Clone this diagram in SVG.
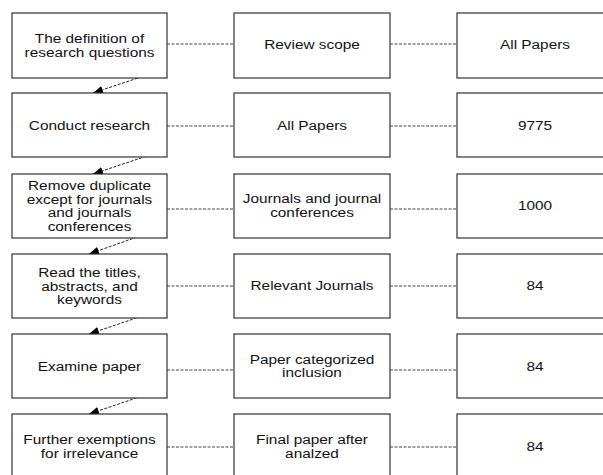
<svg xmlns="http://www.w3.org/2000/svg" width="603" height="475" viewBox="0 0 603 475">
<style>
.box{fill:#fff;stroke:#333;stroke-width:1.2}
.t{font-family:"Liberation Sans",Arial,sans-serif;font-size:12.5px;fill:#111;text-anchor:middle}
.h{stroke:#444;stroke-width:1;stroke-dasharray:3 1.5;fill:none}
.d{stroke:#222;stroke-width:1;stroke-dasharray:3 1.5;fill:none;marker-end:url(#ah)}
</style>
<defs>
<marker id="ah" viewBox="0 0 10 8" refX="10" refY="4" markerWidth="10" markerHeight="8" markerUnits="userSpaceOnUse" orient="auto">
<path d="M0,0 L10,4 L0,8 Z" fill="#000"/>
</marker>
</defs>
<rect width="603" height="475" fill="#fff"/>
<g id="connectors">
<line class="h" x1="167" y1="44" x2="234" y2="44"/>
<line class="h" x1="390" y1="44" x2="457" y2="44"/>
<line class="h" x1="167" y1="126" x2="234" y2="126"/>
<line class="h" x1="390" y1="126" x2="457" y2="126"/>
<line class="h" x1="167" y1="209" x2="234" y2="209"/>
<line class="h" x1="390" y1="209" x2="457" y2="209"/>
<line class="h" x1="167" y1="286" x2="234" y2="286"/>
<line class="h" x1="390" y1="286" x2="457" y2="286"/>
<line class="h" x1="167" y1="370" x2="234" y2="370"/>
<line class="h" x1="390" y1="370" x2="457" y2="370"/>
<line class="h" x1="167" y1="447" x2="234" y2="447"/>
<line class="h" x1="390" y1="447" x2="457" y2="447"/>
<line class="d" x1="159" y1="71" x2="93" y2="93"/>
<line class="d" x1="159" y1="152" x2="93" y2="174"/>
<line class="d" x1="154" y1="231" x2="89" y2="254"/>
<line class="d" x1="154" y1="312" x2="89" y2="334"/>
<line class="d" x1="154" y1="392" x2="89" y2="414"/>
</g>
<g id="r1c1"><rect class="box" x="12" y="13" width="155" height="65"/><text class="t" transform="translate(89.5,0) scale(1.23,1)"><tspan x="0" y="43">The definition of</tspan><tspan x="0" y="57">research questions</tspan></text></g>
<g id="r1c2"><rect class="box" x="234" y="13" width="156" height="65"/><text class="t" transform="translate(312,0) scale(1.23,1)" y="49.5">Review scope</text></g>
<g id="r1c3"><rect class="box" x="457" y="13" width="156" height="65"/><text class="t" transform="translate(535,0) scale(1.23,1)" y="49.5">All Papers</text></g>
<g id="r2c1"><rect class="box" x="12" y="93" width="155" height="64"/><text class="t" transform="translate(89.5,0) scale(1.23,1)" y="130.5">Conduct research</text></g>
<g id="r2c2"><rect class="box" x="234" y="93" width="156" height="64"/><text class="t" transform="translate(312,0) scale(1.23,1)" y="130.5">All Papers</text></g>
<g id="r2c3"><rect class="box" x="457" y="93" width="156" height="64"/><text class="t" transform="translate(535,0) scale(1.23,1)" y="130.5">9775</text></g>
<g id="r3c1"><rect class="box" x="12" y="174" width="155" height="64"/><text class="t" transform="translate(89.5,0) scale(1.23,1)"><tspan x="0" y="190.5">Remove duplicate</tspan><tspan x="0" y="204">except for journals</tspan><tspan x="0" y="217.5">and journals</tspan><tspan x="0" y="231">conferences</tspan></text></g>
<g id="r3c2"><rect class="box" x="234" y="174" width="156" height="64"/><text class="t" transform="translate(312,0) scale(1.23,1)"><tspan x="0" y="203.5">Journals and journal</tspan><tspan x="0" y="217.5">conferences</tspan></text></g>
<g id="r3c3"><rect class="box" x="457" y="174" width="156" height="64"/><text class="t" transform="translate(535,0) scale(1.23,1)" y="210.5">1000</text></g>
<g id="r4c1"><rect class="box" x="12" y="254" width="155" height="64"/><text class="t" transform="translate(89.5,0) scale(1.23,1)"><tspan x="0" y="277.5">Read the titles,</tspan><tspan x="0" y="291">abstracts, and</tspan><tspan x="0" y="304.5">keywords</tspan></text></g>
<g id="r4c2"><rect class="box" x="234" y="254" width="156" height="64"/><text class="t" transform="translate(312,0) scale(1.23,1)" y="290.5">Relevant Journals</text></g>
<g id="r4c3"><rect class="box" x="457" y="254" width="156" height="64"/><text class="t" transform="translate(535,0) scale(1.23,1)" y="290.5">84</text></g>
<g id="r5c1"><rect class="box" x="12" y="334" width="155" height="64"/><text class="t" transform="translate(89.5,0) scale(1.23,1)" y="371.5">Examine paper</text></g>
<g id="r5c2"><rect class="box" x="234" y="334" width="156" height="64"/><text class="t" transform="translate(312,0) scale(1.23,1)"><tspan x="0" y="364.5">Paper categorized</tspan><tspan x="0" y="377.5">inclusion</tspan></text></g>
<g id="r5c3"><rect class="box" x="457" y="334" width="156" height="64"/><text class="t" transform="translate(535,0) scale(1.23,1)" y="371.5">84</text></g>
<g id="r6c1"><rect class="box" x="12" y="414" width="155" height="66"/><text class="t" transform="translate(89.5,0) scale(1.23,1)"><tspan x="0" y="444.5">Further exemptions</tspan><tspan x="0" y="458.5">for irrelevance</tspan></text></g>
<g id="r6c2"><rect class="box" x="234" y="414" width="156" height="66"/><text class="t" transform="translate(312,0) scale(1.23,1)"><tspan x="0" y="444.5">Final paper after</tspan><tspan x="0" y="458.5">analzed</tspan></text></g>
<g id="r6c3"><rect class="box" x="457" y="414" width="156" height="66"/><text class="t" transform="translate(535,0) scale(1.23,1)" y="451.5">84</text></g>
</svg>
